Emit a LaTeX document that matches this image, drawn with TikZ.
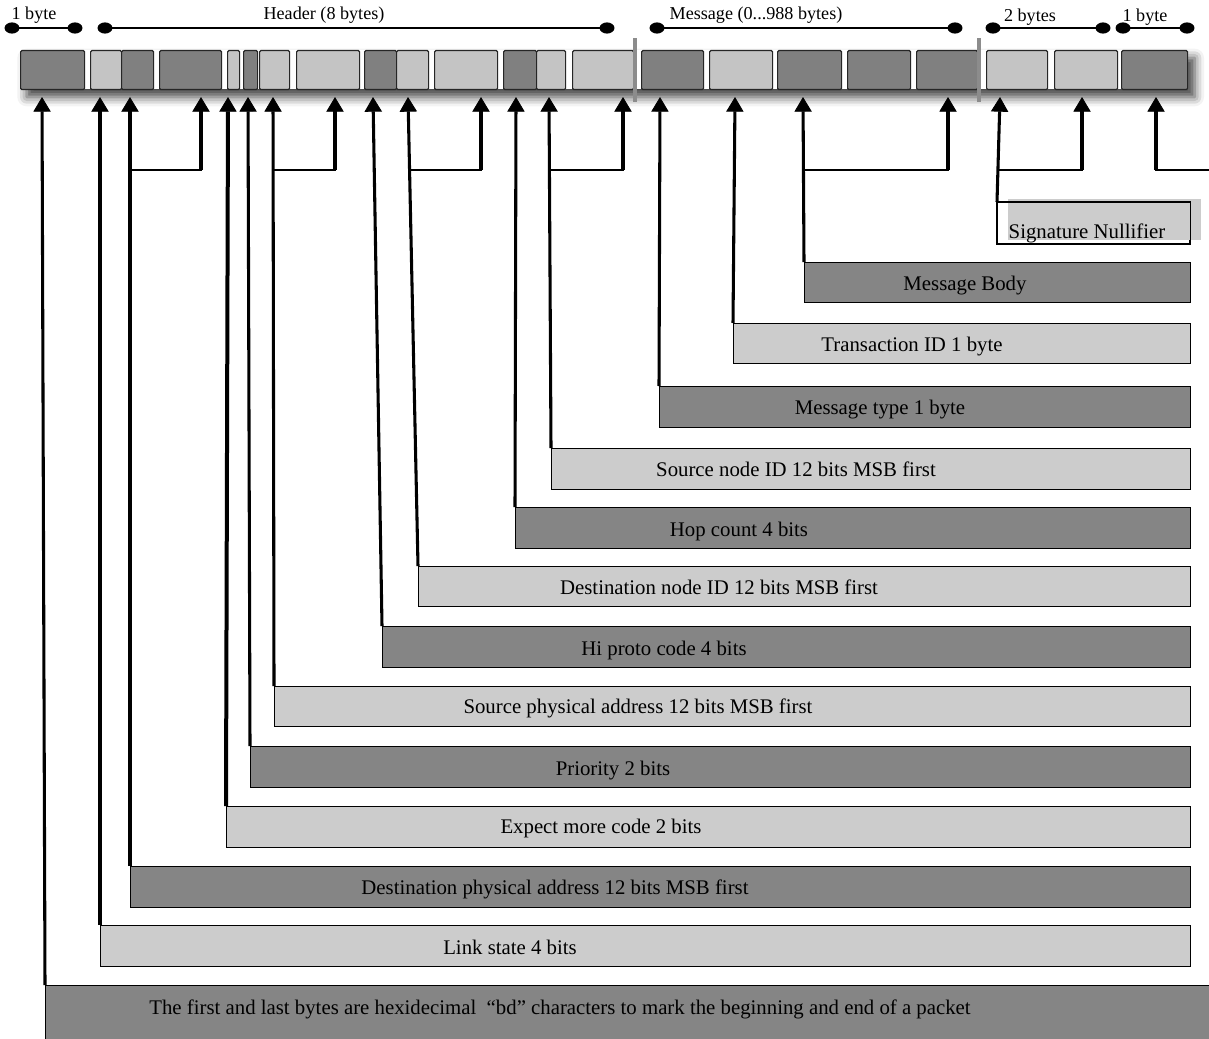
\documentclass[tikz,border=0pt]{standalone}
\usepackage{fontspec}
\setmainfont{Liberation Serif}
\usetikzlibrary{arrows.meta,shadows.blur}
\definecolor{boxdark}{gray}{0.52}
\definecolor{boxlight}{gray}{0.80}
\definecolor{celldark}{gray}{0.50}
\definecolor{celllight}{gray}{0.77}
\definecolor{sepgray}{gray}{0.55}
\tikzset{
  lbl/.style={font=\fontsize{15.6}{18}\selectfont, inner sep=0pt, anchor=base},
  toplbl/.style={font=\fontsize{13.6}{16}\selectfont, inner sep=0pt, anchor=base},
  fbox/.style 2 args={draw=black, line width=1pt, anchor=north west, inner sep=0pt,
    minimum width=#1*0.75pt, minimum height=#2*0.75pt},
  darkbox/.style={fill=boxdark},
  lightbox/.style={fill=boxlight},
  cellbox/.style 2 args={draw=black!85, line width=0.9pt, rounded corners=1pt, anchor=north west,
    inner sep=0pt, minimum width=#1*0.75pt, minimum height=#2*0.75pt},
  arr/.style={line width=2.3pt, -{Triangle[width=13pt,length=11pt,fill=black,line width=0.6pt]}},
  joinline/.style={line width=1.6pt, line cap=rect},
  dimline/.style={line width=1.6pt},
  dotend/.style={fill=black},
}
\begin{document}
\begin{tikzpicture}[x=0.75pt, y=-0.75pt]
\useasboundingbox (0,0) rectangle (1209,1038);

% ---- shadow of the packet bar
\fill[white, blur shadow={shadow xshift=5pt, shadow yshift=-6pt, shadow blur radius=7pt, shadow opacity=75}]
  (20,50) rectangle (1188,89);

% ---- cells of the packet
\foreach \n/\xa/\xb/\c in {1/20/84/celldark, 2/90/121/celllight, 3/121/153/celldark, 4/159/221/celldark,
  5/227/239/celllight, 6/243/257/celldark, 7/259/289/celllight, 8/296/359/celllight,
  9/364/396/celldark, 10/396/428/celllight, 11/434/497/celllight, 12/503/536/celldark,
  13/536/565/celllight, 14/572/633/celllight, 15/641/703/celldark, 16/709/772/celllight,
  17/777/841/celldark, 18/847/910/celldark, 19/916/977/celldark, 20/986/1047/celllight,
  21/1054/1117/celllight, 22/1121/1187/celldark}
{
  \pgfmathsetmacro{\cellw}{\xb-\xa}
  \node[cellbox={\cellw}{39}, fill=\c] (c\n) at (\xa,50) {};
}

% ---- separators
\fill[sepgray] (633,38) rectangle (637,102);
\fill[sepgray] (977,38) rectangle (981,102);

% ---- dimension lines and labels
\node[toplbl] (l1) at (34,20) {1 byte};
\node[toplbl] (l2) at (324,20) {Header (8 bytes)};
\node[toplbl] (l3) at (756,20) {Message (0...988 bytes)};
\node[toplbl] (l4) at (1030,22) {2 bytes};
\node[toplbl] (l5) at (1145,22) {1 byte};
\foreach \xa/\xb in {12/75, 105/607, 657/955, 993/1103, 1123/1187}
{
  \draw[dimline] (\xa,28) -- (\xb,28);
  \fill[dotend] (\xa,28) ellipse [x radius=5.6pt, y radius=4.2pt];
  \fill[dotend] (\xb,28) ellipse [x radius=5.6pt, y radius=4.2pt];
}

% ---- label boxes
\node[fbox={192}{41}, fill=white] (b1) at (997,202) {};
\fill[boxlight] (1008,199) rectangle (1201,240);
\draw[line width=1pt] (b1.north west) rectangle (b1.south east);
\node[fbox={386}{40}, darkbox] (b2) at (804,262) {};
\node[fbox={457}{40}, lightbox] (b3) at (733,323) {};
\node[fbox={531}{41}, darkbox] (b4) at (659,386) {};
\node[fbox={639}{41}, lightbox] (b5) at (551,448) {};
\node[fbox={675}{41}, darkbox] (b6) at (515,507) {};
\node[fbox={772}{40}, lightbox] (b7) at (418,566) {};
\node[fbox={808}{41}, darkbox] (b8) at (382,626) {};
\node[fbox={916}{40}, lightbox] (b9) at (274,686) {};
\node[fbox={940}{41}, darkbox] (b10) at (250,746) {};
\node[fbox={964}{41}, lightbox] (b11) at (226,806) {};
\node[fbox={1060}{41}, darkbox] (b12) at (130,866) {};
\node[fbox={1090}{41}, lightbox] (b13) at (100,925) {};
\node[fbox={1175}{62}, darkbox] (b14) at (45,985) {};

\node[lbl] (x1) at (1087,238) {Signature Nullifier};
\node[lbl] (x2) at (965,290) {Message Body};
\node[lbl] (x3) at (912,351) {Transaction ID 1 byte};
\node[lbl] (x4) at (880,414) {Message type 1 byte};
\node[lbl] (x5) at (796,476) {Source node ID 12 bits MSB first};
\node[lbl] (x6) at (739,536) {Hop count 4 bits};
\node[lbl] (x7) at (719,594) {Destination node ID 12 bits MSB first};
\node[lbl] (x8) at (664,655) {Hi proto code 4 bits};
\node[lbl] (x9) at (638,713) {Source physical address 12 bits MSB first};
\node[lbl] (x10) at (613,775) {Priority 2 bits};
\node[lbl] (x11) at (601,833) {Expect more code 2 bits};
\node[lbl] (x12) at (555,894) {Destination physical address 12 bits MSB first};
\node[lbl] (x13) at (510,954) {Link state 4 bits};
\node[lbl] (x14) at (560,1014) {The first and last bytes are hexidecimal\ \ “bd” characters to mark the beginning and end of a packet};

% ---- arrow tips (under the cells)
\foreach \n/\x in {1/42, 2/100, 3/130, 4/201, 5/228, 6/248, 7/273, 8/335, 9/373, 10/408, 11/481,
  12/516, 13/549, 14/623, 15/660, 16/735, 17/803, 18/948, 19/1000, 20/1082, 21/1156}
  \coordinate (t\n) at (\x,97);
% junctions of paired arrows
\foreach \n/\x in {3/130, 4/201, 7/273, 8/335, 10/409, 11/481, 13/549, 14/623, 17/803, 18/948, 19/1000, 20/1082, 21/1156}
  \coordinate (j\n) at (\x,170);
\coordinate (e21) at (1215,170);

% ---- connectors
\draw[arr] (b14.north west) -- (t1);
\draw[arr] (b13.north west) -- (t2);
\draw[arr] (b12.north west) -- (t3);
\draw[joinline] (j3) -- (j4);
\draw[arr] (j4) -- (t4);
\draw[arr, line width=3pt] (b11.north west) -- (t5);
\draw[arr] (b10.north west) -- (t6);
\draw[arr] (b9.north west) -- (t7);
\draw[joinline] (j7) -- (j8);
\draw[arr] (j8) -- (t8);
\draw[arr] (b8.north west) -- (t9);
\draw[arr] (b7.north west) -- (t10);
\draw[joinline] (j10) -- (j11);
\draw[arr] (j11) -- (t11);
\draw[arr] (b6.north west) -- (t12);
\draw[arr] (b5.north west) -- (t13);
\draw[joinline] (j13) -- (j14);
\draw[arr] (j14) -- (t14);
\draw[arr] (b4.north west) -- (t15);
\draw[arr] (b3.north west) -- (t16);
\draw[arr] (b2.north west) -- (t17);
\draw[joinline] (j17) -- (j18);
\draw[arr] (j18) -- (t18);
\draw[arr] (b1.north west) -- (t19);
\draw[joinline] (j19) -- (j20);
\draw[arr] (j20) -- (t20);
\draw[arr] (j21) -- (t21);
\draw[joinline] (j21) -- (e21);
\end{tikzpicture}
\end{document}
